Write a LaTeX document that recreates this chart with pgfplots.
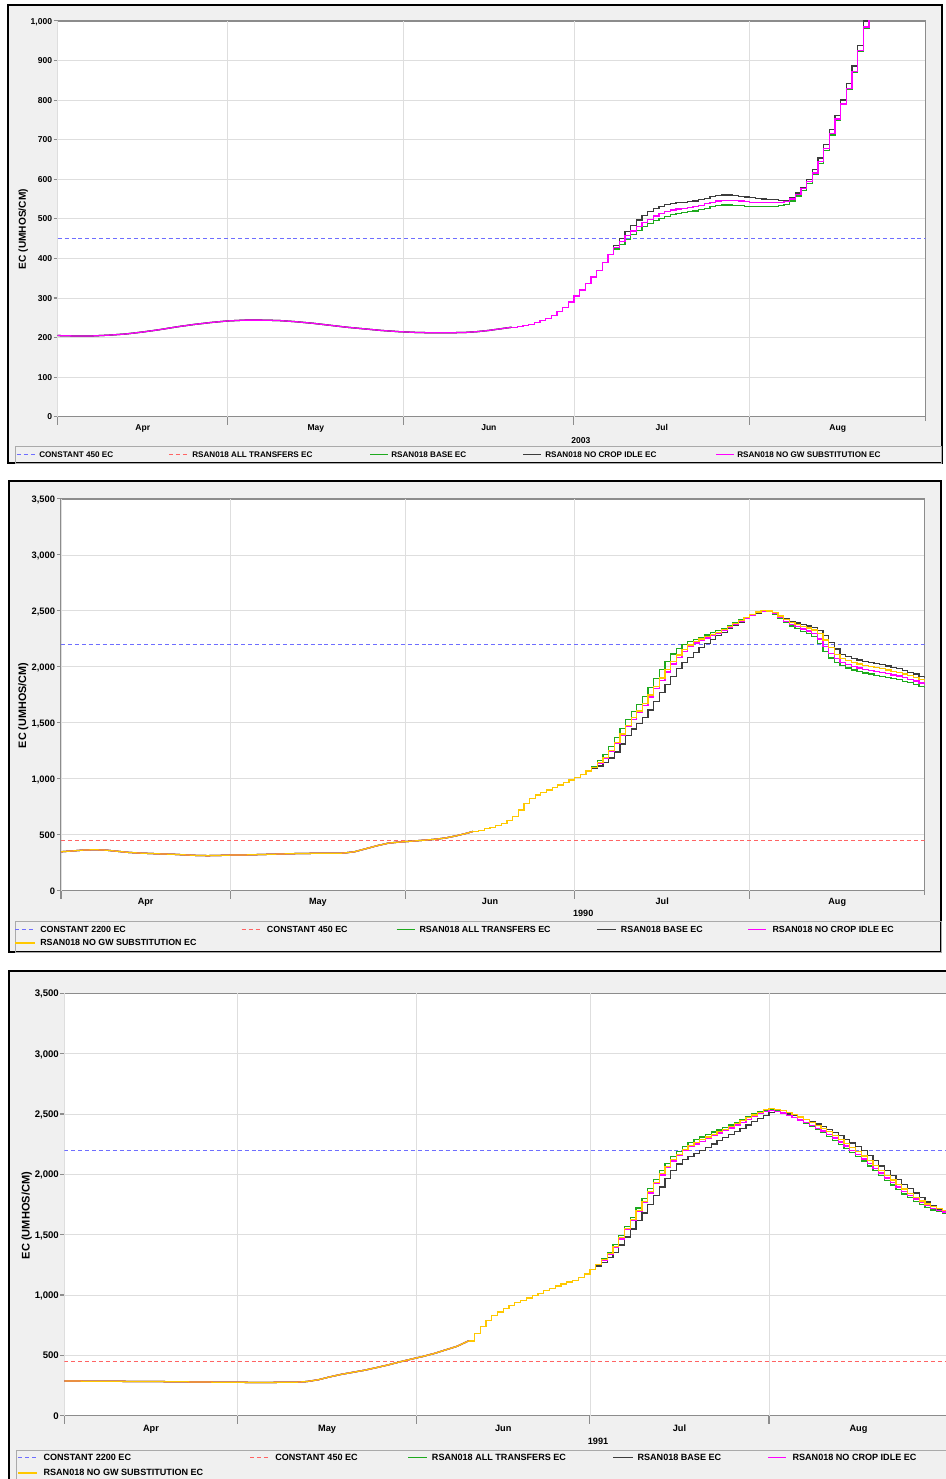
\documentclass[border=0pt]{standalone}
\usepackage{pgfplots}
\pgfplotsset{compat=1.18}
\usepackage{pgfplotstable}
\usepackage{fontspec}
\setmainfont{Liberation Sans}
\definecolor{cblue}{RGB}{110,110,255}
\definecolor{cred}{RGB}{255,100,100}
\definecolor{cgreen}{RGB}{30,170,30}
\definecolor{cblack}{RGB}{60,60,60}
\definecolor{cmag}{RGB}{255,0,255}
\definecolor{cyel}{RGB}{255,200,0}
\definecolor{bggray}{RGB}{240,240,240}
\definecolor{axgray}{RGB}{140,140,140}
\definecolor{gridgray}{RGB}{222,222,222}
\definecolor{boxgray}{RGB}{170,170,170}

\pgfplotstableread{
d g k m
0 205 205 205
3 204 204 204
6 204 204 204
9 206 206 206
12 209 209 209
15 214 214 214
18 220 220 220
21 227 227 227
24 233 233 233
27 238 238 238
30 242 242 242
33 244 244 244
36 244 244 244
39 243 243 243
42 240 240 240
45 236 236 236
48 231 231 231
51 226 226 226
54 222 222 222
57 218 218 218
60 215 215 215
63 213 213 213
66 212 212 212
69 212 212 212
72 213 213 213
74 215 215 215
76 218 218 218
77 220 220 220
78 222 222 222
79 224 224 224
80 226 226 226
81 228 228 228
82 230 230 230
83 233 233 233
84 238 238 238
85 243 243 243
86 249 249 249
87 256 256 256
88 265 265 265
89 276 276 276
90 290 290 290
91 305 305 305
92 320 320 320
93 336 336 336
94 353 353 353
95 370 370 370
96 390 390 390
97 410 410 410
98 424 432 428
99 436 450 443
100 448 468 457
101 460 484 469
102 470 497 480
103 480 508 490
104 488 518 499
105 495 526 507
106 501 532 513
107 506 536 518
108 510 539 522
109 513 541 525
110 516 542 527
111 518 543 529
112 520 545 531
113 523 548 534
114 527 552 538
115 531 556 542
116 534 559 545
117 535 560 546
118 535 560 546
119 534 559 546
120 533 557 545
121 532 555 543
122 531 553 542
123 531 551 541
124 531 550 541
125 531 549 541
126 532 548 541
127 534 547 542
128 537 546 543
129 545 553 550
130 558 565 562
131 572 580 576
132 590 600 594
133 612 625 616
134 640 654 645
135 673 688 678
136 712 725 715
137 750 762 752
138 788 800 790
139 828 842 830
140 870 886 872
141 922 938 925
142 982 1000 985
143 1040 1060 1045
144 1100 1120 1110
145 1160 1180 1170
}\tabA

\pgfplotstableread{
d g k m y
0 348 348 348 348
2 355 355 355 355
4 363 363 363 363
6 366 366 366 366
8 362 362 362 362
10 352 352 352 352
12 342 342 342 342
14 336 336 336 336
16 332 332 332 332
18 328 328 328 328
20 325 325 325 325
22 320 320 320 320
24 315 315 315 315
26 313 313 313 313
28 315 315 315 315
30 318 318 318 318
33 320 320 320 320
36 324 324 324 324
39 328 328 328 328
42 332 332 332 332
45 334 334 334 334
48 334 334 334 334
50 336 336 336 336
52 348 348 348 348
54 375 375 375 375
56 402 402 402 402
58 425 425 425 425
60 435 435 435 435
62 442 442 442 442
64 450 450 450 450
66 458 458 458 458
68 470 470 470 470
70 490 490 490 490
72 515 515 515 515
73 530 530 530 530
74 540 540 540 540
75 553 553 553 553
76 566 566 566 566
77 582 582 582 582
78 600 600 600 600
79 625 625 625 625
80 660 660 660 660
81 720 720 720 720
82 780 780 780 780
83 825 825 825 825
84 855 855 855 855
85 878 878 878 878
86 900 900 900 900
87 922 922 922 922
88 945 945 945 945
89 965 965 965 965
90 990 990 990 990
91 1010 1010 1010 1010
92 1035 1035 1035 1035
93 1070 1070 1070 1070
94 1110 1090 1100 1103
95 1160 1115 1140 1145
96 1215 1145 1185 1190
97 1290 1185 1245 1255
98 1370 1240 1315 1325
99 1450 1310 1390 1400
100 1530 1385 1465 1478
101 1600 1445 1530 1545
102 1665 1495 1590 1605
103 1735 1550 1655 1670
104 1815 1615 1730 1748
105 1895 1690 1805 1825
106 1975 1770 1880 1900
107 2050 1845 1955 1975
108 2115 1915 2025 2045
109 2165 1985 2085 2105
110 2200 2040 2135 2155
111 2225 2085 2180 2195
112 2245 2130 2212 2225
113 2265 2170 2237 2248
114 2285 2210 2258 2268
115 2305 2245 2280 2288
116 2325 2280 2303 2310
117 2345 2310 2328 2333
118 2368 2340 2353 2358
119 2392 2370 2380 2385
120 2418 2400 2408 2412
121 2443 2430 2436 2440
122 2468 2458 2462 2466
123 2490 2482 2486 2490
124 2500 2496 2498 2502
125 2492 2494 2492 2498
126 2470 2480 2474 2484
127 2430 2450 2440 2455
128 2395 2428 2408 2425
129 2365 2408 2380 2398
130 2340 2392 2358 2378
131 2318 2378 2338 2362
132 2295 2365 2320 2348
133 2270 2350 2298 2330
134 2210 2325 2250 2295
135 2140 2280 2180 2240
136 2080 2220 2120 2170
137 2040 2160 2075 2110
138 2010 2110 2040 2075
139 1990 2090 2020 2055
140 1972 2075 2003 2038
141 1958 2062 1990 2025
142 1945 2050 1978 2013
143 1935 2040 1968 2003
144 1925 2030 1958 1993
145 1915 2020 1948 1983
146 1905 2008 1938 1972
147 1895 1995 1928 1960
148 1885 1982 1918 1948
149 1872 1968 1905 1935
150 1858 1952 1890 1920
151 1842 1935 1873 1903
152 1825 1916 1856 1886
153 1808 1898 1838 1868
}\tabB

\pgfplotstableread{
d g k m y
0 288 288 288 288
4 286 286 286 286
8 285 285 285 285
12 284 284 284 284
16 283 283 283 283
20 281 281 281 281
24 279 279 279 279
28 277 277 277 277
32 276 276 276 276
36 276 276 276 276
40 277 277 277 277
42 283 283 283 283
44 298 298 298 298
46 322 322 322 322
48 343 343 343 343
50 360 360 360 360
52 377 377 377 377
54 398 398 398 398
56 420 420 420 420
58 445 445 445 445
60 468 468 468 468
62 490 490 490 490
64 515 515 515 515
66 545 545 545 545
68 575 575 575 575
70 620 620 620 620
71 680 680 680 680
72 740 740 740 740
73 790 790 790 790
74 830 830 830 830
75 860 860 860 860
76 890 890 890 890
77 915 915 915 915
78 935 935 935 935
79 955 955 955 955
80 975 975 975 975
81 995 995 995 995
82 1015 1015 1015 1015
83 1035 1035 1035 1035
84 1055 1055 1055 1055
85 1075 1075 1075 1075
86 1092 1092 1092 1092
87 1107 1107 1107 1107
88 1122 1122 1122 1122
89 1145 1145 1145 1145
90 1175 1175 1175 1175
91 1210 1210 1210 1210
92 1255 1240 1250 1252
93 1300 1272 1290 1295
94 1350 1310 1335 1342
95 1420 1355 1395 1405
96 1495 1415 1465 1475
97 1570 1480 1540 1550
98 1645 1548 1615 1625
99 1720 1615 1690 1700
100 1800 1680 1765 1775
101 1880 1750 1845 1855
102 1960 1825 1925 1935
103 2030 1895 1995 2005
104 2090 1965 2055 2065
105 2145 2030 2110 2120
106 2190 2085 2155 2165
107 2230 2125 2195 2205
108 2262 2150 2228 2240
109 2288 2175 2252 2265
110 2310 2200 2275 2288
111 2330 2225 2298 2310
112 2350 2252 2320 2332
113 2368 2278 2342 2352
114 2385 2305 2362 2372
115 2408 2330 2384 2395
116 2432 2355 2408 2420
117 2455 2380 2432 2444
118 2478 2408 2456 2468
119 2500 2435 2480 2492
120 2518 2462 2503 2515
121 2530 2490 2522 2535
122 2535 2515 2530 2547
123 2525 2518 2522 2540
124 2510 2510 2508 2528
125 2490 2500 2490 2512
126 2468 2488 2470 2494
127 2445 2472 2450 2474
128 2420 2455 2428 2452
129 2395 2436 2405 2430
130 2370 2416 2382 2406
131 2345 2395 2358 2380
132 2315 2372 2330 2352
133 2283 2348 2300 2322
134 2250 2320 2268 2290
135 2217 2290 2235 2258
136 2183 2260 2200 2225
137 2148 2230 2165 2190
138 2110 2195 2128 2152
139 2070 2155 2090 2112
140 2030 2112 2050 2072
141 1990 2070 2010 2032
142 1950 2030 1970 1992
143 1912 1992 1932 1952
144 1875 1955 1895 1915
145 1838 1918 1858 1878
146 1805 1882 1825 1843
147 1775 1845 1795 1810
148 1748 1805 1765 1780
149 1725 1770 1740 1755
150 1705 1738 1718 1732
151 1690 1710 1700 1715
152 1680 1690 1688 1702
153 1672 1680 1680 1695
}\tabC

\pgfplotsset{
  ecaxis/.style={
    scale only axis,
    anchor=south west,
    xmin=0, xmax=153, ymin=0,
    axis background/.style={fill=white},
    axis line style={axgray, line width=1pt},
    xtick={0,30,61,91,122,153},
    xticklabels={Apr,May,Jun,Jul,Aug},
    x tick label as interval,
    extra x ticks={0,30,61,91,122},
    extra x tick labels={},
    extra x tick style={/pgfplots/major tick length=6pt},
    xmajorgrids, ymajorgrids,
    grid style={gridgray, line width=0.6pt},
    tick align=outside,
    xtick pos=left, ytick pos=left,
    major tick length=3pt,
    tick style={axgray, line width=0.8pt},
    /pgf/number format/assume math mode=true,
    /pgf/number format/1000 sep={,},
    clip=true,
  },
  ser/.style={const plot, line width=0.95pt, color=#1},
  lin/.style={sharp plot, line width=0.95pt, color=#1, forget plot},
  cst/.style={line width=0.9pt, dash pattern=on 3pt off 2.2pt, color=#1},
}
\tikzset{
  tcst/.style={line width=0.95pt, dash pattern=on 3pt off 2.2pt, draw=#1},
  tser/.style={line width=1pt, draw=#1},
}

\begin{document}
\begin{tikzpicture}
% ---------- frames ----------
\fill[bggray] (6pt,762pt) rectangle (706.5pt,1105.5pt);
\draw[black, line width=1.5pt] (6pt,762pt) rectangle (706.5pt,1105.5pt);
\draw[boxgray, line width=0.6pt] (11.25pt,762pt) rectangle (705.75pt,774.225pt);

\fill[bggray] (6.75pt,395.025pt) rectangle (705.975pt,748.5pt);
\draw[black, line width=1.5pt] (6.75pt,395.025pt) rectangle (705.975pt,748.5pt);
\draw[boxgray, line width=0.6pt] (11.25pt,395.025pt) rectangle (705.975pt,417.975pt);

\fill[bggray] (6.75pt,-15pt) rectangle (723.75pt,381pt);
\draw[black, line width=1.5pt] (6.75pt,-15pt) rectangle (723.75pt,381pt);
\draw[boxgray, line width=0.6pt] (12pt,-15pt) rectangle (723.75pt,21.75pt);

% ---------- chart 1 (2003) ----------
\begin{axis}[ecaxis,
  at={(43.275pt,796.725pt)}, width=651pt, height=296.8pt,
  ymax=1000, ytick={0,100,...,1000},
  tick label style={font=\bfseries\fontsize{6.4}{7}\selectfont},
  yticklabel style={anchor=base east, inner sep=0pt, xshift=-1.0pt, yshift=-2.3pt},
  xticklabel style={anchor=base, inner sep=0pt, yshift=-7.2pt},
  ylabel={EC (UMHOS/CM)},
  ylabel style={font=\bfseries\fontsize{7.6}{9}\selectfont, at={(axis description cs:-0.0396,0.474)}, anchor=center},
  xlabel={2003},
  xlabel style={font=\bfseries\fontsize{6.4}{7}\selectfont, at={(axis description cs:0.6026,0)}, anchor=base, inner sep=0pt, yshift=-19.8pt},
]
\addplot[cst=cblue] coordinates {(0,450) (153,450)};
\addplot[lin=cgreen, restrict x to domain=0:80] table[x=d,y=g]{\tabA};
\addplot[ser=cgreen, restrict x to domain=80:153] table[x=d,y=g]{\tabA};
\addplot[lin=cblack, restrict x to domain=0:80] table[x=d,y=k]{\tabA};
\addplot[ser=cblack, restrict x to domain=80:153] table[x=d,y=k]{\tabA};
\addplot[lin=cmag, restrict x to domain=0:80] table[x=d,y=m]{\tabA};
\addplot[ser=cmag, restrict x to domain=80:153] table[x=d,y=m]{\tabA};
\end{axis}

% ---------- chart 2 (1990) ----------
\begin{axis}[ecaxis,
  at={(45.75pt,441.225pt)}, width=647.8pt, height=293.8pt,
  ymax=3500, ytick={0,500,...,3500},
  tick label style={font=\bfseries\fontsize{7}{8}\selectfont},
  yticklabel style={anchor=base east, inner sep=0pt, xshift=-1.3pt, yshift=-2.5pt},
  xticklabel style={anchor=base, inner sep=0pt, yshift=-7.35pt, font=\bfseries\fontsize{6.8}{8}\selectfont},
  ylabel={EC (UMHOS/CM)},
  ylabel style={font=\bfseries\fontsize{8.1}{9}\selectfont, at={(axis description cs:-0.0437,0.473)}, anchor=center},
  xlabel={1990},
  xlabel style={font=\bfseries\fontsize{6.8}{8}\selectfont, at={(axis description cs:0.6046,0)}, anchor=base, inner sep=0pt, yshift=-19.4pt},
]
\addplot[cst=cblue] coordinates {(0,2200) (153,2200)};
\addplot[cst=cred] coordinates {(0,450) (153,450)};
\addplot[lin=cgreen, restrict x to domain=0:73] table[x=d,y=g]{\tabB};
\addplot[ser=cgreen, restrict x to domain=73:153] table[x=d,y=g]{\tabB};
\addplot[lin=cblack, restrict x to domain=0:73] table[x=d,y=k]{\tabB};
\addplot[ser=cblack, restrict x to domain=73:153] table[x=d,y=k]{\tabB};
\addplot[lin=cmag, restrict x to domain=0:73] table[x=d,y=m]{\tabB};
\addplot[ser=cmag, restrict x to domain=73:153] table[x=d,y=m]{\tabB};
\addplot[lin=cyel, restrict x to domain=0:73] table[x=d,y=y]{\tabB};
\addplot[ser=cyel, restrict x to domain=73:153] table[x=d,y=y]{\tabB};
\end{axis}

% ---------- chart 3 (1991) ----------
\begin{axis}[ecaxis,
  at={(48.225pt,47.475pt)}, width=662.8pt, height=316.8pt,
  ymax=3500, ytick={0,500,...,3500},
  tick label style={font=\bfseries\fontsize{7.2}{8}\selectfont},
  yticklabel style={anchor=base east, inner sep=0pt, xshift=-0.9pt, yshift=-2.6pt},
  xticklabel style={anchor=base, inner sep=0pt, yshift=-8.55pt, font=\bfseries\fontsize{6.9}{8}\selectfont},
  ylabel={EC (UMHOS/CM)},
  ylabel style={font=\bfseries\fontsize{8.3}{9}\selectfont, at={(axis description cs:-0.0425,0.474)}, anchor=center},
  xlabel={1991},
  xlabel style={font=\bfseries\fontsize{6.9}{8}\selectfont, at={(axis description cs:0.604,0)}, anchor=base, inner sep=0pt, yshift=-21.95pt},
]
\addplot[cst=cblue] coordinates {(0,2200) (153,2200)};
\addplot[cst=cred] coordinates {(0,450) (153,450)};
\addplot[lin=cgreen, restrict x to domain=0:70] table[x=d,y=g]{\tabC};
\addplot[ser=cgreen, restrict x to domain=70:153] table[x=d,y=g]{\tabC};
\addplot[lin=cblack, restrict x to domain=0:70] table[x=d,y=k]{\tabC};
\addplot[ser=cblack, restrict x to domain=70:153] table[x=d,y=k]{\tabC};
\addplot[lin=cmag, restrict x to domain=0:70] table[x=d,y=m]{\tabC};
\addplot[ser=cmag, restrict x to domain=70:153] table[x=d,y=m]{\tabC};
\addplot[lin=cyel, restrict x to domain=0:70] table[x=d,y=y]{\tabC};
\addplot[ser=cyel, restrict x to domain=70:153] table[x=d,y=y]{\tabC};
\end{axis}

% ---------- legends (pixel units, y measured from the bottom) ----------
\begin{scope}[x=0.75pt,y=0.75pt]
\tikzset{lt/.style={anchor=west, inner sep=0pt, font=\bfseries\fontsize{6.1}{7}\selectfont}}
\draw[tcst=cblue] (17,1024.3) -- (35,1024.3);
\node[lt] at (39,1024.3) {CONSTANT 450 EC};
\draw[tcst=cred] (169,1024.3) -- (187,1024.3);
\node[lt] at (192,1024.3) {RSAN018 ALL TRANSFERS EC};
\draw[tser=cgreen] (370,1024.3) -- (388,1024.3);
\node[lt] at (391,1024.3) {RSAN018 BASE EC};
\draw[tser=cblack] (523,1024.3) -- (541,1024.3);
\node[lt] at (545,1024.3) {RSAN018 NO CROP IDLE EC};
\draw[tser=cmag] (716,1024.3) -- (734,1024.3);
\node[lt] at (737,1024.3) {RSAN018 NO GW SUBSTITUTION EC};

\tikzset{lt/.style={anchor=west, inner sep=0pt, font=\bfseries\fontsize{6.65}{8}\selectfont}}
\draw[tcst=cblue] (15,549.7) -- (35,549.7);
\node[lt] at (40,549.7) {CONSTANT 2200 EC};
\draw[tcst=cred] (241.7,549.7) -- (261.7,549.7);
\node[lt] at (266.7,549.7) {CONSTANT 450 EC};
\draw[tser=cgreen] (396.7,549.7) -- (415,549.7);
\node[lt] at (419.3,549.7) {RSAN018 ALL TRANSFERS EC};
\draw[tser=cblack] (597,549.7) -- (615.7,549.7);
\node[lt] at (620.7,549.7) {RSAN018 BASE EC};
\draw[tser=cmag] (748,549.7) -- (766.3,549.7);
\node[lt] at (772.3,549.7) {RSAN018 NO CROP IDLE EC};
\draw[tser=cyel, line width=1.4pt] (15,536.3) -- (35,536.3);
\node[lt] at (40,536.3) {RSAN018 NO GW SUBSTITUTION EC};

\tikzset{lt/.style={anchor=west, inner sep=0pt, font=\bfseries\fontsize{6.8}{8}\selectfont}}
\draw[tcst=cblue] (18.3,21.3) -- (36.7,21.3);
\node[lt] at (43.3,21.3) {CONSTANT 2200 EC};
\draw[tcst=cred] (250,21.3) -- (270,21.3);
\node[lt] at (275,21.3) {CONSTANT 450 EC};
\draw[tser=cgreen] (408.3,21.3) -- (426.7,21.3);
\node[lt] at (431.7,21.3) {RSAN018 ALL TRANSFERS EC};
\draw[tser=cblack] (613,21.3) -- (633,21.3);
\node[lt] at (637.3,21.3) {RSAN018 BASE EC};
\draw[tser=cmag] (768,21.3) -- (786.3,21.3);
\node[lt] at (792.3,21.3) {RSAN018 NO CROP IDLE EC};
\draw[tser=cyel, line width=1.4pt] (18.3,6.3) -- (36.7,6.3);
\node[lt] at (43.3,6.3) {RSAN018 NO GW SUBSTITUTION EC};
\end{scope}

\pgfresetboundingbox
\path[use as bounding box] (0pt,0pt) rectangle (709.5pt,1109.25pt);
\end{tikzpicture}
\end{document}
